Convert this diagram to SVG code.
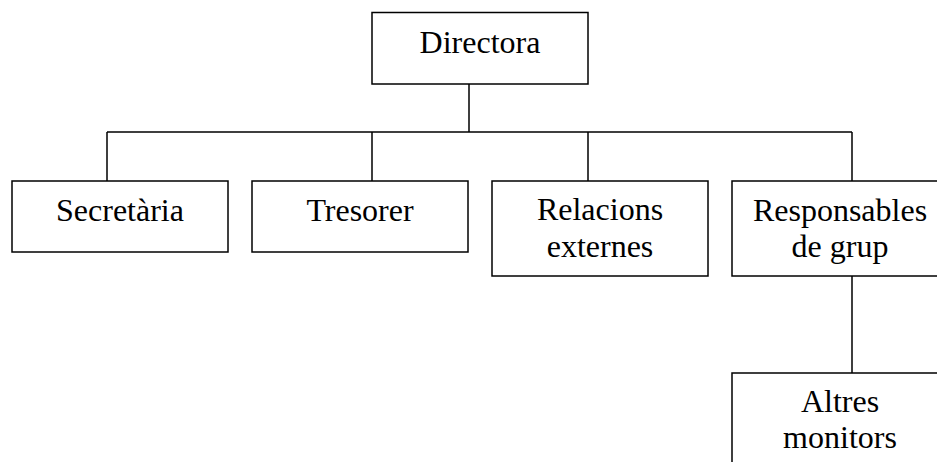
<svg xmlns="http://www.w3.org/2000/svg" width="937" height="462" viewBox="0 0 937 462">
<style>
.box{fill:#fff;stroke:#000;stroke-width:1.5}
.t{font-family:"Liberation Serif","Times New Roman",serif;font-size:32px;fill:#000;text-anchor:middle}
.c{fill:none;stroke:#000;stroke-width:1.5}
</style>
<rect width="937" height="462" fill="#fff"/>
<g id="connectors">
<path class="c" d="M469,84V132M107,132H852M107,132V181M372,132V181M588,132V181M852,132V181M852,276V373"/>
</g>
<g id="directora"><rect class="box" x="372" y="12.5" width="216" height="71.5"/><text class="t" x="480" y="53">Directora</text></g>
<g id="secretaria"><rect class="box" x="12" y="181" width="216" height="71"/><text class="t" x="120" y="221">Secretària</text></g>
<g id="tresorer"><rect class="box" x="252" y="181" width="216" height="71"/><text class="t" x="360" y="221">Tresorer</text></g>
<g id="relacions"><rect class="box" x="492" y="181" width="216" height="95"/><text class="t" x="600" y="220">Relacions</text><text class="t" x="600" y="257">externes</text></g>
<g id="responsables"><rect class="box" x="732" y="181" width="216" height="95"/><text class="t" x="840" y="221">Responsables</text><text class="t" x="840" y="257">de grup</text></g>
<g id="altres"><rect class="box" x="732" y="373" width="216" height="100"/><text class="t" x="840" y="412">Altres</text><text class="t" x="840" y="448">monitors</text></g>
</svg>
